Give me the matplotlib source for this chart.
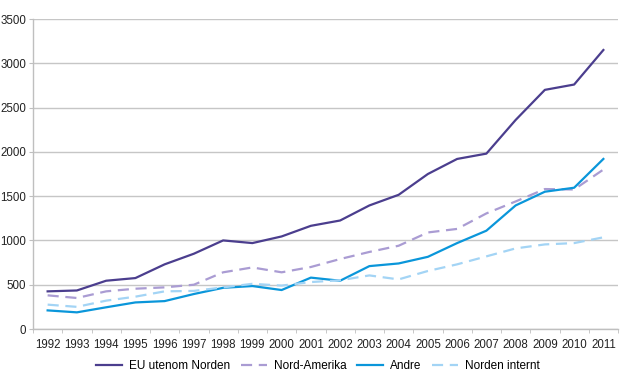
import matplotlib
matplotlib.use("Agg")
import matplotlib.pyplot as plt
import numpy as np

years = [str(y) for y in range(1992, 2012)]
eu_utenom_norden = [425, 435, 545, 575, 730, 850, 1000, 970, 1045, 1165, 1225, 1395, 1515,
                    1750, 1920, 1980, 2360, 2700, 2760, 3150]
nord_amerika = [380, 350, 425, 455, 470, 500, 640, 695, 640, 700, 790, 870, 940,
                1090, 1130, 1305, 1440, 1580, 1575, 1800]
andre = [210, 188, 245, 300, 315, 395, 465, 485, 440, 580, 545, 710, 740,
         815, 970, 1110, 1395, 1550, 1595, 1920]
norden_internt = [275, 250, 320, 365, 425, 430, 470, 510, 490, 530, 550, 605, 560,
                  655, 730, 820, 910, 955, 970, 1035]

plt.rcParams['font.family'] = ['Liberation Sans', 'DejaVu Sans']

fig = plt.figure(figsize=(6.2, 3.91), dpi=100)
ax = fig.add_axes([33/620, 1-329/391, 585/620, (329-19)/391])

x = np.arange(len(years))
ax.plot(x, eu_utenom_norden, color='#4B3E8E', lw=1.6, label='EU utenom Norden')
ax.plot(x, nord_amerika, color='#AA9CD3', lw=1.6, ls=(0, (5, 3)), label='Nord-Amerika')
ax.plot(x, andre, color='#0A96DA', lw=1.6, label='Andre')
ax.plot(x, norden_internt, color='#A3D4F5', lw=1.6, ls=(0, (5, 3)), label='Norden internt')

ax.set_xlim(-0.5, len(years) - 0.5)
ax.set_ylim(0, 3500)
ax.set_yticks(np.arange(0, 3501, 500))
ax.set_xticks(x)
ax.set_xticklabels(years)
ax.set_xticks(np.arange(-0.5, len(years), 1), minor=True)
ax.tick_params(axis='x', which='major', length=0, pad=7, labelsize=8.3, colors='#222222')
ax.tick_params(axis='x', which='minor', length=3, color='#BFBFBF', direction='out')
ax.tick_params(axis='y', length=3, pad=2, labelsize=8.3, colors='#222222')
ax.tick_params(axis='y', color='#BFBFBF')
ax.grid(axis='y', color='#C6C6C6', lw=1)
ax.set_axisbelow(True)
for s in ['top', 'right']:
    ax.spines[s].set_visible(False)
for s in ['left', 'bottom']:
    ax.spines[s].set_color('#BFBFBF')
    ax.spines[s].set_linewidth(1)

fig.legend(loc='center', bbox_to_anchor=(318/620, 1-366/391), ncol=4, frameon=False,
           fontsize=8.5, handlelength=2.2, columnspacing=0.9, handletextpad=0.6)

fig.savefig('out.png', dpi=100)
